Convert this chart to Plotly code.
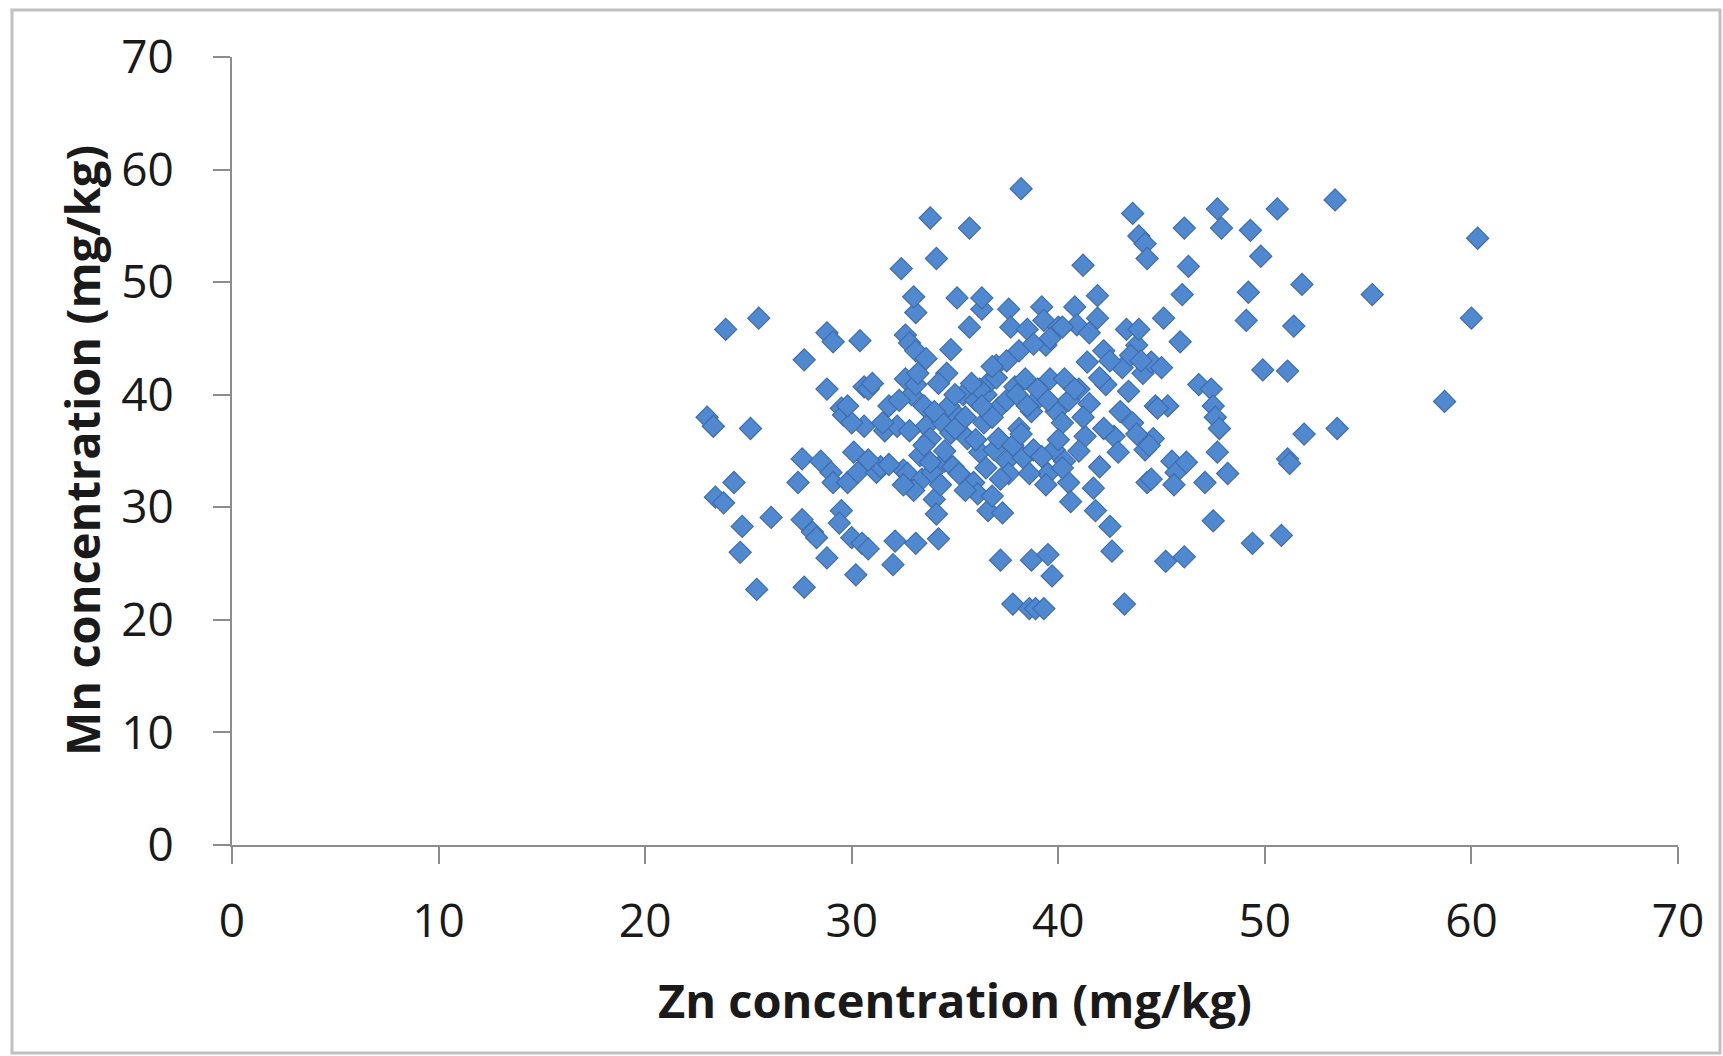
import plotly.graph_objects as go

zn = [
 23.0,23.3,23.9,23.4,23.8,24.3,24.7,24.6,25.1,25.5,25.4,26.1,27.7,27.6,27.4,27.6,28.1,28.3,27.7,28.5,
 28.8,29.1,28.8,29.0,29.1,28.8,29.5,29.6,29.5,29.4,29.8,30.0,30.1,30.2,30.4,30.3,30.5,30.6,30.8,30.6,
 30.8,31.2,31.4,31.6,31.8,32.0,32.1,32.2,32.5,32.6,32.6,32.8,32.7,32.9,33.1,33.2,33.1,33.1,33.3,33.4,
 33.1,33.5,33.6,33.8,33.9,34.0,34.1,34.2,34.4,34.5,34.6,34.7,34.8,34.9,35.1,35.2,35.4,35.6,35.7,35.9,
 36.0,36.1,36.2,36.3,36.3,36.4,36.5,36.6,36.7,36.9,37.0,37.1,37.1,37.2,37.3,37.5,37.6,37.6,37.7,37.8,
 37.9,38.1,38.1,38.2,38.3,38.4,38.5,38.6,38.7,38.7,38.8,38.9,39.1,39.2,39.3,39.3,39.4,39.5,39.5,39.6,
 39.7,39.8,39.9,40.0,40.2,40.3,40.3,40.5,40.6,40.8,40.9,41.0,41.2,41.3,41.4,41.5,41.7,41.8,41.9,41.9,
 42.0,42.2,42.3,42.5,42.6,42.7,42.9,43.0,43.1,43.2,43.3,43.4,43.6,43.6,43.8,43.9,43.9,44.1,44.2,44.2,
 44.3,44.3,44.5,44.6,44.7,45.0,45.1,45.2,45.3,45.5,45.7,45.9,46.0,46.1,46.1,46.3,46.8,47.1,47.4,47.5,
 47.5,47.6,47.7,47.7,47.8,47.9,48.2,49.1,49.2,49.3,49.4,49.8,49.9,50.6,50.8,51.1,51.1,51.2,51.4,51.8,
 51.9,53.4,53.5,55.2,58.7,60.0,60.3,32.4,33.8,35.7,34.1,33.0,
 34.0,35.0,35.5,36.0,36.8,37.5,38.0,38.5,39.0,39.5,36.2,37.0,35.8,34.5,35.2,36.5,37.8,38.2,39.2,40.0,
 40.5,41.2,40.8,33.5,32.8,33.8,31.5,32.3,34.3,35.5,36.8,37.2,33.0,32.5,31.8,30.8,42.0,42.5,43.5,44.0,
 44.8,41.5,40.2,39.6,38.8,37.5,36.8,36.3,35.0,34.2,38.6,39.4,40.2,41.0,42.2,43.8,44.4,45.6,46.2,44.5,
 30.0,29.8,31.0,33.6,34.8
]
mn = [
 38.0,37.2,45.8,30.9,30.4,32.2,28.3,26.0,37.0,46.8,22.7,29.1,43.1,34.3,32.2,28.9,27.8,27.3,22.9,34.1,
 45.5,44.7,40.5,33.1,32.2,25.5,38.8,38.2,29.7,28.6,32.2,27.3,34.9,24.0,44.8,33.1,26.8,40.7,40.5,37.2,
 26.3,33.1,33.6,36.8,39.0,24.9,27.0,37.2,33.3,41.4,45.3,44.6,33.0,40.0,40.9,41.9,47.3,43.9,34.6,32.5,
 26.8,39.0,37.2,36.1,33.1,30.7,29.4,27.2,37.5,34.1,41.9,39.0,36.6,33.6,48.6,38.0,40.0,36.1,46.0,32.2,
 39.5,31.2,34.9,47.6,48.6,37.5,40.0,29.7,41.2,35.1,42.6,38.8,36.1,25.3,29.5,34.1,33.0,47.6,46.0,21.4,
 40.7,37.0,43.9,58.3,34.4,41.4,45.8,21.0,25.3,38.5,35.1,21.0,39.8,47.8,46.6,21.0,44.4,33.0,25.8,41.4,
 23.9,35.1,38.5,46.0,37.5,41.4,34.1,32.2,30.5,47.8,46.2,40.5,51.5,36.3,42.9,39.2,31.7,29.7,48.8,46.8,
 33.6,43.9,40.9,28.3,26.1,36.3,34.9,38.5,42.4,21.4,45.8,40.3,56.1,37.5,44.4,54.1,45.8,41.9,53.4,35.1,
 52.1,32.2,42.9,36.1,39.0,42.4,46.8,25.2,39.0,34.1,33.1,44.7,48.9,25.6,54.8,51.4,40.9,32.2,40.5,39.0,
 28.8,38.0,34.9,56.5,37.0,54.8,33.0,46.6,49.1,54.6,26.8,52.3,42.2,56.5,27.5,42.1,34.3,33.9,46.1,49.8,
 36.5,57.3,37.0,48.9,39.4,46.8,53.9,51.2,55.7,54.8,52.1,48.7,
 38.5,37.0,38.0,36.0,38.0,39.5,40.0,39.0,40.5,39.5,40.5,41.5,41.0,35.0,33.0,33.5,35.5,36.5,34.5,36.0,
 39.5,38.0,40.5,35.5,36.8,34.0,37.5,39.5,32.0,31.5,31.0,32.5,31.5,32.0,33.8,34.2,41.5,43.0,43.5,43.0,
 38.8,45.5,46.0,45.0,44.5,43.0,42.5,39.0,40.0,41.0,33.0,32.0,33.5,35.0,37.0,36.5,35.5,32.0,34.0,32.5,
 37.5,39.0,41.0,43.2,44.0
]

x_ticks = [0, 10, 20, 30, 40, 50, 60, 70]
y_ticks = [0, 10, 20, 30, 40, 50, 60, 70]
x_title = "Zn concentration (mg/kg)"
y_title = "Mn concentration (mg/kg)"

W, H = 1723, 1056
L, R, T, B = 232, 45, 57, 211
pw, ph = W - L - R, H - T - B

fig = go.Figure()
fig.add_trace(go.Scatter(
    x=zn, y=mn, mode="markers",
    marker=dict(symbol="diamond", size=17, color="#5189D1",
                line=dict(color="#3E6DAD", width=1.2)),
    hoverinfo="skip", cliponaxis=False,
))

font_tick = dict(family="Open Sans, DejaVu Sans, sans-serif", size=46, color="#1a1a1a")
axis_common = dict(
    showgrid=False, zeroline=False, showline=True, linecolor="#8c8c8c", linewidth=2,
    ticks="outside", ticklen=17, tickwidth=2, tickcolor="#8c8c8c",
    tickfont=font_tick, range=[0, 70], tickmode="array",
)
fig.update_xaxes(**axis_common, tickvals=x_ticks, ticktext=[str(v) for v in x_ticks],
                 ticklabelstandoff=18)
fig.update_yaxes(**axis_common, tickvals=y_ticks, ticktext=[str(v) for v in y_ticks],
                 ticklabelstandoff=30)

title_font = dict(family="Open Sans, DejaVu Sans, sans-serif", size=47, color="#1a1a1a")
fig.add_annotation(text="<b>%s</b>" % x_title, xref="paper", yref="paper",
                   x=0.5, y=(845 - 1000) / ph, showarrow=False, font=title_font,
                   xanchor="center", yanchor="middle")
fig.add_annotation(text="<b>%s</b>" % y_title, xref="paper", yref="paper",
                   x=(82 - L) / pw, y=0.5, showarrow=False, font=title_font, textangle=-90,
                   xanchor="center", yanchor="middle")

fig.add_shape(type="rect", xref="paper", yref="paper",
              x0=(12 - L) / pw, x1=(1720 - L) / pw,
              y0=(845 - 1053) / ph, y1=(845 - 10) / ph,
              line=dict(color="#c0c0c0", width=3), fillcolor="rgba(0,0,0,0)", layer="below")

fig.update_layout(
    width=W, height=H, autosize=False,
    margin=dict(l=L, r=R, t=T, b=B, autoexpand=False),
    paper_bgcolor="white", plot_bgcolor="white", showlegend=False,
)

fig.write_html("out.html", config={"displayModeBar": False})
